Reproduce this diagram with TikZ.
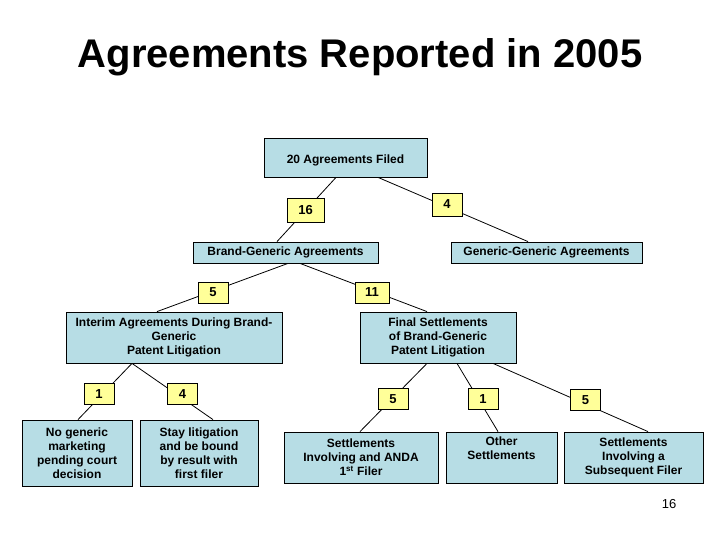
\documentclass[tikz,border=0pt]{standalone}
\usepackage{fontspec}
\setmainfont{Liberation Sans}
\definecolor{boxblue}{RGB}{183,221,229}
\definecolor{cntyellow}{RGB}{255,255,153}

\begin{document}
\begin{tikzpicture}
  [x=1pt,y=-1pt,line width=.8pt,
   box/.style={draw,fill=boxblue,align=center,inner sep=1pt,
     font=\fontsize{12}{14}\selectfont\bfseries},
   cnt/.style={draw,fill=cntyellow,minimum width=30pt,minimum height=21pt,
     inner sep=1pt,font=\fontsize{13}{15}\selectfont\bfseries}]
  \useasboundingbox (0,0) rectangle (720,540);

  \node[anchor=base,font=\fontsize{40}{48}\selectfont\bfseries] (tt) at (360,68) {Agreements Reported in 2005};

  % boxes
  \node[box,minimum width=163pt,minimum height=39pt] (b0) at (345.5,157.5) {\raisebox{-3pt}[9pt][3pt]{20 Agreements Filed}};
  \node[box,minimum width=185pt,minimum height=21pt] (b1) at (285.5,252.5) {Brand-Generic Agreements};
  \node[box,minimum width=191pt,minimum height=21pt] (b2) at (546.5,252.5) {Generic-Generic Agreements};
  \node[box,minimum width=216pt,minimum height=51pt] (b3) at (174,337.5) {Interim Agreements During Brand-\\Generic\\Patent Litigation};
  \node[box,minimum width=156pt,minimum height=51pt] (b4) at (438,337.5) {Final Settlements\\of Brand-Generic\\Patent Litigation};
  \node[box,minimum width=110pt,minimum height=66pt] (b5) at (77,453) {No generic\\marketing\\pending court\\decision};
  \node[box,minimum width=118pt,minimum height=66pt] (b6) at (199,453) {Stay litigation\\and be bound\\by result with\\first filer};
  \node[box,minimum width=154pt,minimum height=51pt] (b7) at (361,457.5) {Settlements\\Involving and ANDA\\1\textsuperscript{st} Filer};
  \node[box,minimum width=111pt,minimum height=51pt] (b8) at (501.5,457.5) {Other\\Settlements\\\strut};
  \node[box,minimum width=139pt,minimum height=51pt] (b9) at (633.5,457.5) {Settlements\\Involving a\\Subsequent Filer};

  \foreach \from/\fs/\to/\ts in {b0/-9.5/b1/-8.5,b0/32.5/b2/-18.5,b1/2.5/b3/-17,b1/14.5/b4/-11,
      b3/-42/b5/1,b3/-42/b6/14,b4/-11/b7/-1,b4/19/b8/-3.5,b4/55/b9/14.5}
    \draw ([xshift=\fs pt]\from.south) -- ([xshift=\ts pt]\to.north);

  % counts
  \node[cnt,minimum width=37pt,minimum height=24pt] (c1) at (305.5,210) {16};
  \node[cnt,minimum height=23pt] (c2) at (447,204.5) {4};
  \node[cnt] (c3) at (213,292.5) {5};
  \node[cnt,minimum width=34pt] (c4) at (372,292.5) {11};
  \node[cnt] (c5) at (99,394) {1};
  \node[cnt] (c6) at (182.5,394) {4};
  \node[cnt] (c7) at (393,399) {5};
  \node[cnt] (c8) at (483,399) {1};
  \node[cnt] (c9) at (585.5,400) {5};

  \node[font=\fontsize{13}{15}\selectfont] (pg) at (669,504) {16};
\end{tikzpicture}
\end{document}
